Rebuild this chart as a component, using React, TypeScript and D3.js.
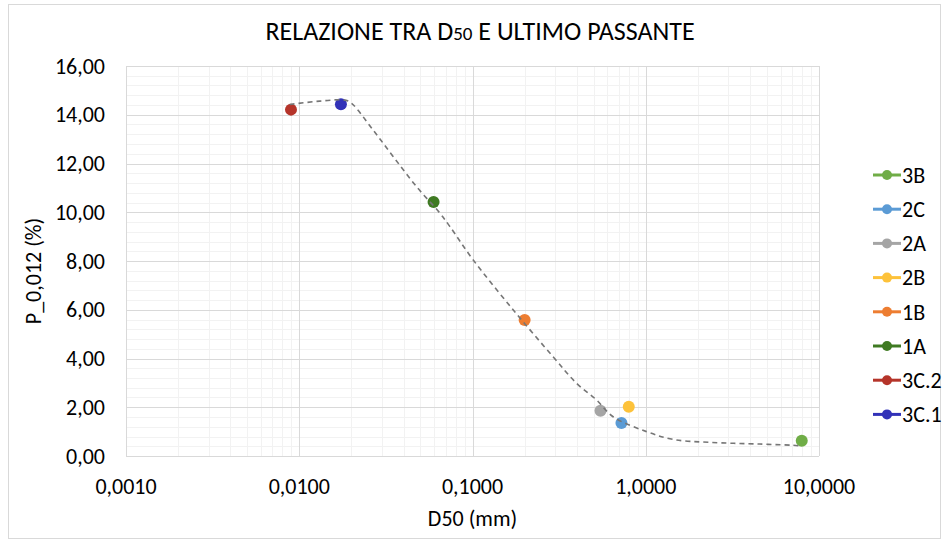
import { useEffect, useRef } from "react";
import * as d3 from "d3";

// sample series (one point each)
const seriesNames = ["3B", "2C", "2A", "2B", "1B", "1A", "3C.2", "3C.1"];
const seriesD50 = [7.95, 0.724, 0.548, 0.798, 0.2, 0.0596, 0.00896, 0.0174];
const seriesP = [0.63, 1.35, 1.86, 2.02, 5.58, 10.42, 14.21, 14.43];
const seriesColors = [
  "#70ad47",
  "#5b9bd5",
  "#a5a5a5",
  "#fdc23a",
  "#ed7d31",
  "#3f7a22",
  "#b5342a",
  "#3232b8",
];

// dashed trend line
const trendD50 = [
  0.0088, 0.01316, 0.0184, 0.02005, 0.0267, 0.0349, 0.0475, 0.0649, 0.0741,
  0.101, 0.172, 0.292, 0.399, 0.52, 0.648, 1.01, 1.438, 2.34, 4.55, 7.08, 7.67,
];
const trendP = [
  14.42, 14.56, 14.6, 14.47, 13.37, 12.28, 11.05, 9.96, 9.41, 8.04, 5.99, 4.07,
  2.98, 2.3, 1.61, 1.0, 0.68, 0.56, 0.49, 0.44, 0.42,
];

const xTicks = [0.001, 0.01, 0.1, 1, 10];
const yTicks = [0, 2, 4, 6, 8, 10, 12, 14, 16];

const FONT = "Carlito, 'Liberation Sans Narrow', Lato, sans-serif";

const App = () => {
  const svgRef = useRef<SVGSVGElement>(null);

  useEffect(() => {
    document.body.style.margin = "0";
    const svg = d3.select(svgRef.current);
    svg.selectAll("*").remove();

    const width = 947;
    const height = 543;
    const margin = { top: 66, right: 128, bottom: 87, left: 126 };

    const x = d3
      .scaleLog()
      .domain([0.001, 10])
      .range([margin.left, width - margin.right]);
    const y = d3
      .scaleLinear()
      .domain([0, 16])
      .range([height - margin.bottom, margin.top]);

    const fmt = (v: number, dec: number) => v.toFixed(dec).replace(".", ",");

    // chart border
    svg
      .append("rect")
      .attr("x", 8.5)
      .attr("y", 4.5)
      .attr("width", 932)
      .attr("height", 534)
      .attr("fill", "#fff")
      .attr("stroke", "#d9d9d9");

    const grid = svg.append("g");

    // minor gridlines
    const minorX: number[] = [];
    for (let d = 0.001; d < 10; d *= 10) {
      for (let k = 2; k <= 9; k++) minorX.push(d * k);
    }
    const minorY = d3.range(0, 16.01, 0.4);

    grid
      .selectAll(".mx")
      .data(minorX)
      .join("line")
      .attr("x1", (d) => Math.round(x(d)) + 0.5)
      .attr("x2", (d) => Math.round(x(d)) + 0.5)
      .attr("y1", y(0))
      .attr("y2", y(16))
      .attr("stroke", "#f2f2f2");

    grid
      .selectAll(".my")
      .data(minorY)
      .join("line")
      .attr("x1", x(0.001))
      .attr("x2", x(10))
      .attr("y1", (d) => Math.round(y(d)) + 0.5)
      .attr("y2", (d) => Math.round(y(d)) + 0.5)
      .attr("stroke", "#f2f2f2");

    // major gridlines
    grid
      .selectAll(".MX")
      .data(xTicks)
      .join("line")
      .attr("x1", (d) => Math.round(x(d)) + 0.5)
      .attr("x2", (d) => Math.round(x(d)) + 0.5)
      .attr("y1", y(0))
      .attr("y2", y(16))
      .attr("stroke", "#d9d9d9");

    grid
      .selectAll(".MY")
      .data(yTicks)
      .join("line")
      .attr("x1", x(0.001))
      .attr("x2", x(10))
      .attr("y1", (d) => Math.round(y(d)) + 0.5)
      .attr("y2", (d) => Math.round(y(d)) + 0.5)
      .attr("stroke", "#d9d9d9");

    // tick labels
    svg
      .append("g")
      .selectAll("text")
      .data(yTicks)
      .join("text")
      .attr("x", margin.left - 21)
      .attr("y", (d) => y(d))
      .attr("dy", "0.35em")
      .attr("text-anchor", "end")
      .attr("font-family", FONT)
      .attr("font-size", 22)
      .attr("fill", "#000")
      .text((d) => fmt(d, 2));

    svg
      .append("g")
      .selectAll("text")
      .data(xTicks)
      .join("text")
      .attr("x", (d) => x(d))
      .attr("y", y(0) + 30)
      .attr("dy", "0.35em")
      .attr("text-anchor", "middle")
      .attr("font-family", FONT)
      .attr("font-size", 22)
      .attr("fill", "#000")
      .text((d) => fmt(d, 4));

    // points
    svg
      .append("g")
      .selectAll("circle")
      .data(seriesNames)
      .join("circle")
      .attr("cx", (d, i) => x(seriesD50[i]))
      .attr("cy", (d, i) => y(seriesP[i]))
      .attr("r", 6)
      .attr("fill", (d, i) => seriesColors[i]);

    // trend line
    const line = d3
      .line<number>()
      .x((d, i) => x(trendD50[i]))
      .y((d) => y(d))
      .curve(d3.curveCatmullRom);
    svg
      .append("path")
      .attr("d", line(trendP))
      .attr("fill", "none")
      .attr("stroke", "#767676")
      .attr("stroke-width", 1.6)
      .attr("stroke-dasharray", "5,4");

    // title
    const title = svg
      .append("text")
      .attr("x", 480)
      .attr("y", 40)
      .attr("text-anchor", "middle")
      .attr("font-family", FONT)
      .attr("font-size", 26)
      .attr("fill", "#000");
    title.append("tspan").text("RELAZIONE TRA D");
    title.append("tspan").attr("font-size", 19).text("50");
    title.append("tspan").text(" E ULTIMO PASSANTE");

    // axis titles
    svg
      .append("text")
      .attr("x", x(0.1))
      .attr("y", 518)
      .attr("dy", "0.35em")
      .attr("text-anchor", "middle")
      .attr("font-family", FONT)
      .attr("font-size", 22)
      .text("D50 (mm)");

    svg
      .append("text")
      .attr("transform", `translate(33,${(y(0) + y(16)) / 2 + 10}) rotate(-90)`)
      .attr("dy", "0.35em")
      .attr("text-anchor", "middle")
      .attr("font-family", FONT)
      .attr("font-size", 22)
      .text("P_0,012 (%)");

    // legend
    const legend = svg
      .append("g")
      .selectAll("g")
      .data(seriesNames)
      .join("g")
      .attr("transform", (d, i) => `translate(873,${175 + i * 34.2})`);
    legend
      .append("line")
      .attr("x1", 0)
      .attr("x2", 28)
      .attr("stroke", (d, i) => seriesColors[i])
      .attr("stroke-width", 3);
    legend
      .append("circle")
      .attr("cx", 14)
      .attr("r", 5)
      .attr("fill", (d, i) => seriesColors[i]);
    legend
      .append("text")
      .attr("x", 29)
      .attr("dy", "0.35em")
      .attr("font-family", FONT)
      .attr("font-size", 22)
      .text((d) => d);
  }, []);

  return <svg ref={svgRef} width={947} height={543} style={{ display: "block" }} />;
};

export default App;
